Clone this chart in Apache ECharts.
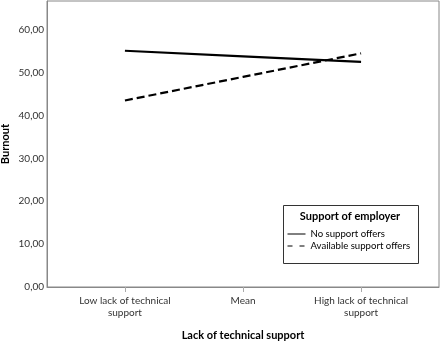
<!DOCTYPE html>
<html><head><meta charset="utf-8">
<script src="https://cdn.jsdelivr.net/npm/echarts@6/dist/echarts.min.js"></script>
<style>html,body{margin:0;padding:0;background:#fff}#c{width:440px;height:341px}</style>
</head><body><div id="c"></div>
<script>
const categories = ['Low lack of technical\nsupport', 'Mean', 'High lack of technical\nsupport'];
const noSupport = [55.1, 53.8, 52.5];
const availableSupport = [43.5, 49.0, 54.5];
const seriesNames = ['No support offers', 'Available support offers'];
const FONT = 'Lato';

const chart = echarts.init(document.getElementById('c'));
const toPts = arr => arr.map((v, i) => [i, v]);
chart.setOption({
  animation: false,
  textStyle: { fontFamily: FONT },
  grid: { left: 47, right: 1, top: 1, bottom: 54, show: true, borderColor: '#888', borderWidth: 1, outerBoundsMode: 'none', containLabel: false },
  xAxis: {
    type: 'value', min: -0.66, max: 2.66,
    name: 'Lack of technical support', nameLocation: 'middle', nameGap: 43, nameMoveOverlap: false,
    nameTextStyle: { fontFamily: FONT, fontSize: 11, fontWeight: 'bold', color: '#000' },
    axisLine: { show: true, onZero: false, lineStyle: { color: '#888', width: 1 } },
    axisTick: { show: true, customValues: [0, 1, 2], length: 5, lineStyle: { color: '#aaa' } },
    axisLabel: { customValues: [0, 1, 2], formatter: v => categories[Math.round(v)], color: '#333', fontSize: 10, lineHeight: 12, margin: 8, hideOverlap: false },
    splitLine: { show: false }
  },
  yAxis: {
    type: 'value', min: 0, max: 66.7, interval: 10,
    name: 'Burnout', nameLocation: 'middle', nameGap: 36, nameMoveOverlap: false,
    nameTextStyle: { fontFamily: FONT, fontSize: 11, fontWeight: 'bold', color: '#000' },
    axisLine: { show: true, onZero: false, lineStyle: { color: '#888', width: 1 } },
    axisTick: { show: false },
    axisLabel: { showMaxLabel: false, formatter: v => v.toFixed(2).replace('.', ','), color: '#333', fontSize: 10, margin: 3 },
    splitLine: { show: false }
  },
  legend: {
    orient: 'vertical', left: 287, top: 229, padding: 0, itemWidth: 18, itemHeight: 10, itemGap: 2,
    textStyle: { fontFamily: FONT, fontSize: 9.6, color: '#000' },
    itemStyle: { opacity: 0 },
    data: [
      { name: seriesNames[0], lineStyle: { width: 1, type: 'solid' } },
      { name: seriesNames[1], lineStyle: { width: 1, type: [5, 7] } }
    ]
  },
  graphic: [
    { type: 'rect', shape: { x: 283.5, y: 205.5, width: 135, height: 58 }, style: { fill: 'none', stroke: '#333', lineWidth: 1 }, z: 10 },
    { type: 'text', x: 350, y: 216, style: { text: 'Support of employer', fontFamily: FONT, fontSize: 11, fontWeight: 'bold', fill: '#000', align: 'center', verticalAlign: 'middle' }, z: 10 }
  ],
  series: [
    { name: seriesNames[0], type: 'line', data: toPts(noSupport), showSymbol: false, symbol: 'none',
      lineStyle: { color: '#000', width: 2.2, type: 'solid' }, itemStyle: { color: '#000' } },
    { name: seriesNames[1], type: 'line', data: toPts(availableSupport), showSymbol: false, symbol: 'none',
      lineStyle: { color: '#000', width: 2.2, type: [8, 4] }, itemStyle: { color: '#000' } }
  ]
});
</script></body></html>
